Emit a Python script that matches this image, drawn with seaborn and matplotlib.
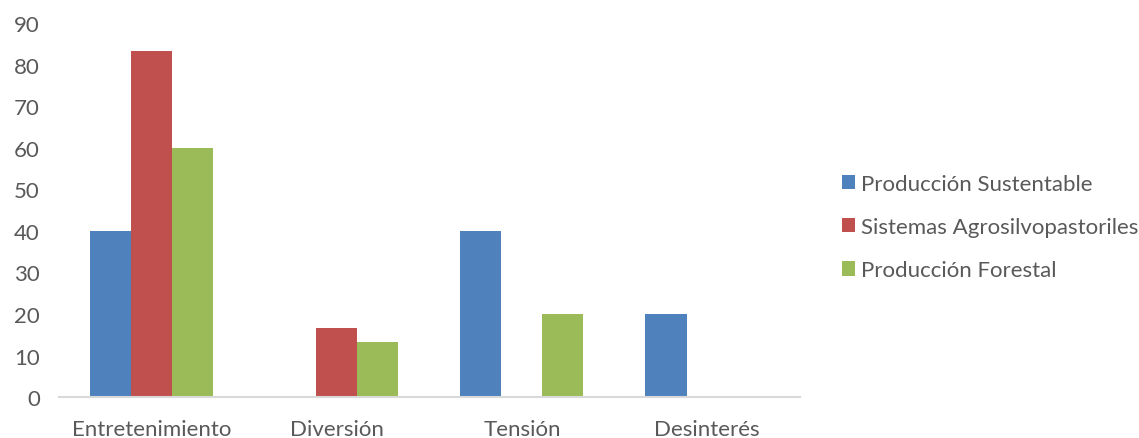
import numpy as np
import pandas as pd
import matplotlib
matplotlib.use("Agg")
import matplotlib.pyplot as plt
import seaborn as sns

categories = ["Entretenimiento", "Diversión", "Tensión", "Desinterés"]
series_names = ["Producción Sustentable", "Sistemas Agrosilvopastoriles", "Producción Forestal"]
produccion_sustentable = [40, 0, 40, 20]
sistemas_agrosilvopastoriles = [83.3, 16.7, 0, 0]
produccion_forestal = [60, 13.3, 20, 0]
y_ticks = [0, 10, 20, 30, 40, 50, 60, 70, 80, 90]

colors = ["#4F81BD", "#C0504D", "#9BBB59"]
text_color = "#595959"

sns.set_theme(style="white")
plt.rcParams["font.family"] = ["Lato", "DejaVu Sans"]

df = pd.DataFrame({
    "categoria": categories * 3,
    "serie": [series_names[0]] * 4 + [series_names[1]] * 4 + [series_names[2]] * 4,
    "valor": produccion_sustentable + sistemas_agrosilvopastoriles + produccion_forestal,
})

fig = plt.figure(figsize=(11.39, 4.39), dpi=100)
ax = fig.add_axes([0.052, 0.093, 0.65, 0.852])

sns.barplot(data=df, x="categoria", y="valor", hue="serie", order=categories,
            hue_order=series_names, palette=colors, width=0.665, saturation=1,
            linewidth=0, ax=ax)

ax.set_ylim(0, 90)
ax.set_xlim(-0.5, 3.5)
ax.set_yticks(y_ticks)
ax.set_xlabel("")
ax.set_ylabel("")
ax.tick_params(axis="both", length=0, labelsize=16, colors=text_color)
ax.tick_params(axis="x", pad=16)
ax.tick_params(axis="y", pad=14)
for side in ["top", "right", "left"]:
    ax.spines[side].set_visible(False)
ax.spines["bottom"].set_color("#D9D9D9")
ax.spines["bottom"].set_linewidth(1.5)

handles, labels = ax.get_legend_handles_labels()
ax.legend(handles, labels, loc="center left", bbox_to_anchor=(1.03, 0.455),
          frameon=False, fontsize=16, labelcolor=text_color,
          handlelength=0.6, handleheight=0.6, handletextpad=0.25, labelspacing=1.05)

fig.savefig("out.png", dpi=100)
